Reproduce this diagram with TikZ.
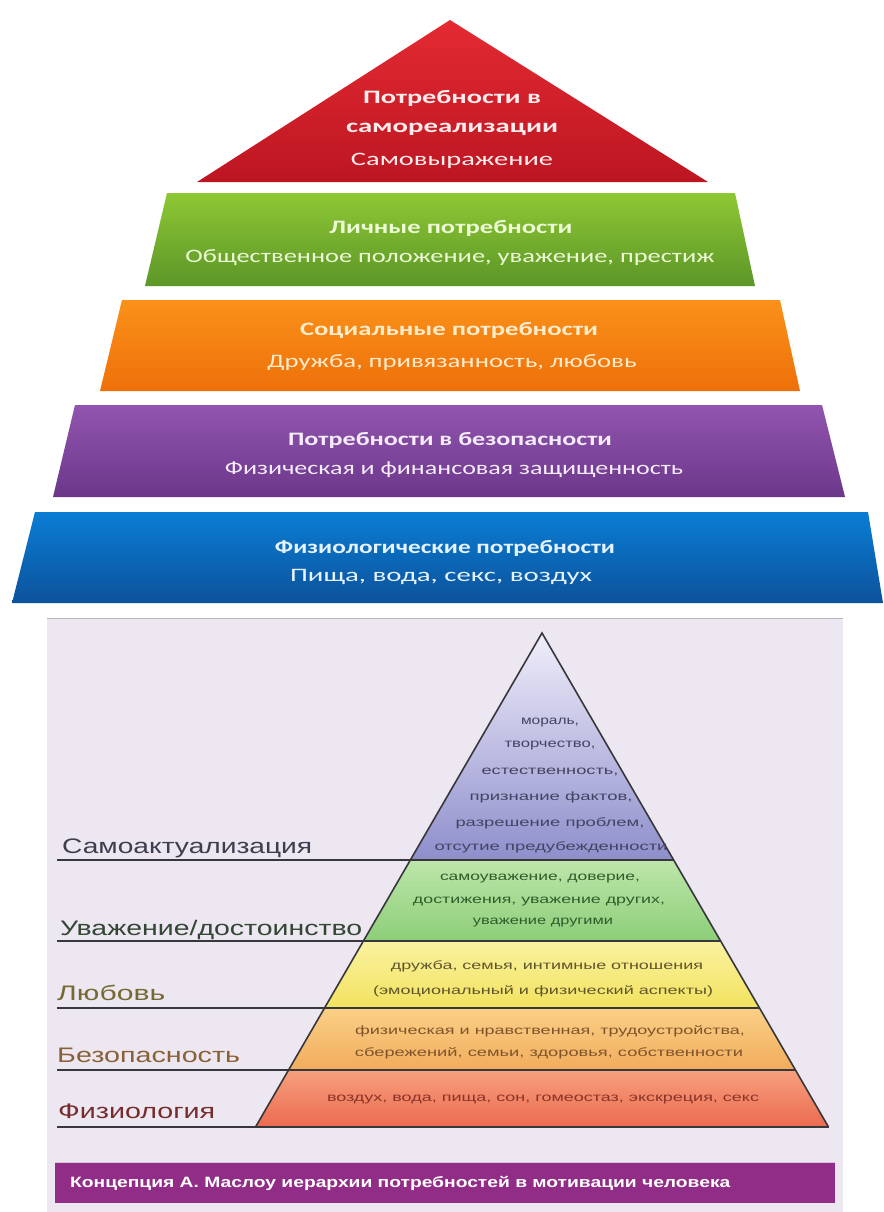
\documentclass[tikz,border=0pt]{standalone}
\usepackage{fontspec}
\usepackage{graphicx}
\setmainfont{Liberation Sans}
\newfontfamily\topf{Carlito}
\newcommand\fw[2]{\resizebox{#1pt}{\height}{#2}}
\definecolor{redT}{RGB}{228,42,50}
\definecolor{redB}{RGB}{188,22,34}
\definecolor{grnT}{RGB}{142,200,52}
\definecolor{grnB}{RGB}{92,150,40}
\definecolor{orgT}{RGB}{250,145,25}
\definecolor{orgB}{RGB}{238,112,10}
\definecolor{purT}{RGB}{145,85,175}
\definecolor{purB}{RGB}{108,55,138}
\definecolor{bluT}{RGB}{10,125,212}
\definecolor{bluB}{RGB}{12,82,155}
\definecolor{lav}{RGB}{236,231,241}
\definecolor{edge}{RGB}{55,55,60}
\definecolor{capbar}{RGB}{145,45,135}
\tikzset{
  toptxt/.style={inner sep=0pt, anchor=center, font=\topf\fontsize{19}{19}\selectfont},
  topbold/.style={toptxt, font=\topf\bfseries\fontsize{19}{19}\selectfont},
  lowtxt/.style={inner sep=0pt, anchor=center, font=\fontsize{12}{12}\selectfont},
  lbl/.style={inner sep=0pt, anchor=base west, font=\fontsize{21}{21}\selectfont},
  rule/.style={draw=edge, line width=1.6pt},
}
\begin{document}
\begin{tikzpicture}[x=1pt,y=-1pt]
\useasboundingbox (0,0) rectangle (883,1212);
\fill[white] (0,0) rectangle (883,1212);
% ---------- upper pyramid ----------
\shade[top color=redT, bottom color=redB] (197,182) -- (450,20) -- (708,182) -- cycle;
\shade[top color=grnT, bottom color=grnB] (167,193) -- (735,193) -- (755,286) -- (145,286) -- cycle;
\shade[top color=orgT, bottom color=orgB] (122,300) -- (780,300) -- (800,391) -- (100,391) -- cycle;
\shade[top color=purT, bottom color=purB] (75,405) -- (822,405) -- (845,497) -- (53,497) -- cycle;
\shade[top color=bluT, bottom color=bluB] (35,512) -- (868,512) -- (883,603) -- (12,603) -- cycle;

\node[topbold, text={rgb,255:red,255;green,236;blue,236}] (r1) at (452,98) {\fw{178}{Потребности в}};
\node[topbold, text={rgb,255:red,255;green,236;blue,236}] (r2) at (452,129) {\fw{212}{самореализации}};
\node[toptxt, text={rgb,255:red,255;green,236;blue,236}] (r3) at (452,161) {\fw{202}{Самовыражение}};

\node[topbold, text={rgb,255:red,236;green,250;blue,214}] (g1) at (451,228) {\fw{243}{Личные потребности}};
\node[toptxt, text={rgb,255:red,236;green,250;blue,214}] (g2) at (450,258) {\fw{529}{Общественное положение, уважение, престиж}};

\node[topbold, text={rgb,255:red,255;green,236;blue,205}] (o1) at (449,330) {\fw{298}{Социальные потребности}};
\node[toptxt, text={rgb,255:red,255;green,236;blue,205}] (o2) at (452,363) {\fw{369}{Дружба, привязанность, любовь}};

\node[topbold, text={rgb,255:red,245;green,236;blue,252}] (p1) at (450,440) {\fw{324}{Потребности в безопасности}};
\node[toptxt, text={rgb,255:red,245;green,236;blue,252}] (p2) at (454,470) {\fw{458}{Физическая и финансовая защищенность}};

\node[topbold, text={rgb,255:red,230;green,243;blue,255}] (b1) at (445,548) {\fw{340}{Физиологические потребности}};
\node[toptxt, text={rgb,255:red,230;green,243;blue,255}] (b2) at (441,577) {\fw{302}{Пища, вода, секс, воздух}};

% ---------- lower picture ----------
\fill[lav] (47,618) rectangle (843,1212);
\draw[gray!55, line width=0.8pt] (47,618) -- (843,618);

\coordinate (apex) at (542,633);
\coordinate (L1) at (410.3,860);  \coordinate (R1) at (673.7,860);
\coordinate (L2) at (363.4,941);  \coordinate (R2) at (720.6,941);
\coordinate (L3) at (324.5,1008); \coordinate (R3) at (759.5,1008);
\coordinate (L4) at (288.5,1070); \coordinate (R4) at (795.5,1070);
\coordinate (L5) at (255.5,1127); \coordinate (R5) at (828.5,1127);

\shade[top color={rgb,255:red,240;green,238;blue,250}, bottom color={rgb,255:red,142;green,142;blue,204}] (apex) -- (R1) -- (L1) -- cycle;
\shade[top color={rgb,255:red,190;green,230;blue,170}, bottom color={rgb,255:red,140;green,206;blue,120}] (L1) -- (R1) -- (R2) -- (L2) -- cycle;
\shade[top color={rgb,255:red,250;green,242;blue,160}, bottom color={rgb,255:red,242;green,226;blue,95}] (L2) -- (R2) -- (R3) -- (L3) -- cycle;
\shade[top color={rgb,255:red,250;green,208;blue,135}, bottom color={rgb,255:red,242;green,172;blue,92}] (L3) -- (R3) -- (R4) -- (L4) -- cycle;
\shade[top color={rgb,255:red,246;green,160;blue,125}, bottom color={rgb,255:red,236;green,106;blue,80}] (L4) -- (R4) -- (R5) -- (L5) -- cycle;

\coordinate (S1) at (57,860);
\coordinate (S2) at (57,941);
\coordinate (S3) at (57,1008);
\coordinate (S4) at (57,1070);
\coordinate (S5) at (57,1127);
\draw[rule] (S1) -- (R1);
\draw[rule] (S2) -- (R2);
\draw[rule] (S3) -- (R3);
\draw[rule] (S4) -- (R4);
\draw[rule] (S5) -- (R5);
\draw[rule, line join=miter] (L5) -- (apex) -- (R5);

% labels
\node[lbl, text={rgb,255:red,62;green,62;blue,78}] (la1) at (62,853) {\fw{250}{Самоактуализация}};
\node[lbl, text={rgb,255:red,52;green,70;blue,52}] (la2) at (60,935) {\fw{302}{Уважение/достоинство}};
\node[lbl, text={rgb,255:red,118;green,106;blue,52}] (la3) at (57,1000) {\fw{108}{Любовь}};
\node[lbl, text={rgb,255:red,138;green,96;blue,54}] (la4) at (57,1062) {\fw{183}{Безопасность}};
\node[lbl, text={rgb,255:red,118;green,44;blue,44}] (la5) at (58,1118) {\fw{157}{Физиология}};

% inner texts
\begin{scope}[every node/.style={lowtxt, text={rgb,255:red,68;green,68;blue,98}}]
\node (t1) at (550,723) {\fw{58}{мораль,}};
\node (t2) at (550,746) {\fw{91}{творчество,}};
\node (t3) at (550,772) {\fw{137}{естественность,}};
\node (t4) at (551,797) {\fw{163}{признание фактов,}};
\node (t5) at (550,823) {\fw{189}{разрешение проблем,}};
\node (t6) at (551,847) {\fw{233}{отсутие предубежденности}};
\end{scope}
\begin{scope}[every node/.style={lowtxt, text={rgb,255:red,48;green,92;blue,44}}]
\node (g3) at (540,879) {\fw{200}{самоуважение, доверие,}};
\node (g4) at (539,902) {\fw{252}{достижения, уважение других,}};
\node (g5) at (543,923) {\fw{140}{уважение другими}};
\end{scope}
\begin{scope}[every node/.style={lowtxt, text={rgb,255:red,96;green,86;blue,44}}]
\node (y1) at (547,966) {\fw{312}{дружба, семья, интимные отношения}};
\node (y2) at (543,991) {\fw{340}{(эмоциональный и физический аспекты)}};
\end{scope}
\begin{scope}[every node/.style={lowtxt, text={rgb,255:red,126;green,84;blue,44}}]
\node (o3) at (550,1031) {\fw{390}{физическая и нравственная, трудоустройства,}};
\node (o4) at (549,1053) {\fw{388}{сбережений, семьи, здоровья, собственности}};
\end{scope}
\node[lowtxt, text={rgb,255:red,138;green,52;blue,40}] (rr) at (543,1100) {\fw{432}{воздух, вода, пища, сон, гомеостаз, экскреция, секс}};

% caption bar
\fill[capbar] (55,1162) rectangle (835,1203);
\draw[white!70!capbar, line width=1pt] (55,1162.5) -- (835,1162.5);
\node[inner sep=0pt, anchor=west, text=white, font=\bfseries\fontsize{15}{15}\selectfont] (cap) at (70,1183) {\fw{660}{Концепция А. Маслоу иерархии потребностей в мотивации человека}};
\end{tikzpicture}
\end{document}
